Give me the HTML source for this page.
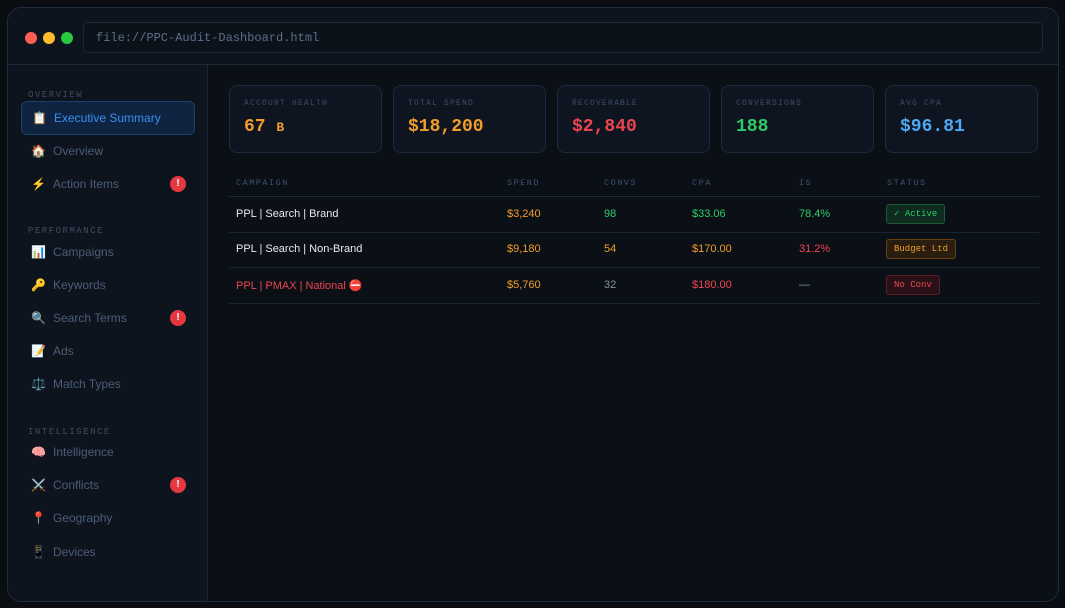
<!DOCTYPE html>
<html><head><meta charset="utf-8"><style>
*{margin:0;padding:0;box-sizing:border-box}
body{width:1065px;height:608px;background:#0a0d12;font-family:"Liberation Sans","Noto Sans CJK SC",sans-serif;position:relative;overflow:hidden}
.win{position:absolute;left:7px;top:7px;width:1052px;height:595px;border:1px solid #1f2d40;border-radius:14px;background:#0b1017;overflow:hidden}
.title{position:absolute;left:0;top:0;right:0;height:57px;background:#0e141d;border-bottom:1px solid #1c2838}
.dot{position:absolute;top:24px;width:12px;height:12px;border-radius:50%}
.url{position:absolute;left:75px;top:14px;width:960px;height:31px;border:1px solid #1c2838;border-radius:5px;background:#0c1219;font-family:"Liberation Mono",monospace;font-size:12px;color:#5b6f8a;padding:8px 12px}
.side{position:absolute;left:0;top:57px;width:200px;bottom:0;background:#0e141d;border-right:1px solid #1c2838}
.sec{position:absolute;left:20px;font-family:"Liberation Mono",monospace;font-size:9px;letter-spacing:1.5px;color:#3c4d64}
.it{position:absolute;left:13px;width:174px;height:34px;font-size:12px;color:#4a5d78;padding:10px 0 0 10px}
.it .ic{display:inline-block;width:22px;font-size:12px}
.it.act{background:#0f2440;border:1px solid #1b3f6b;border-radius:6px;color:#3b8df0;padding-top:9px}
.bdg{position:absolute;left:149px;top:9px;width:16px;height:16px;border-radius:50%;background:#e5383f;color:#fff;font-size:10px;font-weight:bold;text-align:center;line-height:16px}
.card{position:absolute;top:77px;width:153px;height:68px;border:1px solid #1c2a3c;border-radius:8px;background:#0e1520}
.card .l{position:absolute;left:14px;top:13px;font-family:"Liberation Mono",monospace;font-size:8px;letter-spacing:1.2px;color:#3c4d64}
.card .v{position:absolute;left:14px;top:31px;font-family:"Liberation Mono",monospace;font-size:18px;font-weight:bold}
.th{position:absolute;top:170px;font-family:"Liberation Mono",monospace;font-size:8.5px;letter-spacing:1.5px;color:#3c5270}
.hl{position:absolute;left:221px;width:810px;height:1px;background:#1a2433}
.td{position:absolute;font-size:11px}
.tag{position:absolute;font-family:"Liberation Mono",monospace;font-size:9px;padding:4px 7px;border-radius:3px}
</style></head><body>
<div class="win">
<div class="title">
<div class="dot" style="left:17px;background:#fe5f57"></div>
<div class="dot" style="left:35px;background:#febc2e"></div>
<div class="dot" style="left:53px;background:#28c840"></div>
<div class="url">file://PPC-Audit-Dashboard.html</div>
</div>
<div class="side">
<div class="sec" style="top:25px">OVERVIEW</div>
<div class="it act" style="top:36px"><span class="ic">📋</span>Executive Summary</div>
<div class="it" style="top:69px"><span class="ic">🏠</span>Overview</div>
<div class="it" style="top:102px"><span class="ic">⚡</span>Action Items<div class="bdg">!</div></div>
<div class="sec" style="top:161px">PERFORMANCE</div>
<div class="it" style="top:170px"><span class="ic">📊</span>Campaigns</div>
<div class="it" style="top:203px"><span class="ic">🔑</span>Keywords</div>
<div class="it" style="top:236px"><span class="ic">🔍</span>Search Terms<div class="bdg">!</div></div>
<div class="it" style="top:269px"><span class="ic">📝</span>Ads</div>
<div class="it" style="top:302px"><span class="ic">⚖️</span>Match Types</div>
<div class="sec" style="top:362px">INTELLIGENCE</div>
<div class="it" style="top:370px"><span class="ic">🧠</span>Intelligence</div>
<div class="it" style="top:403px"><span class="ic">⚔️</span>Conflicts<div class="bdg">!</div></div>
<div class="it" style="top:436px"><span class="ic">📍</span>Geography</div>
<div class="it" style="top:470px"><span class="ic">📱</span>Devices</div>
</div>
<div class="card" style="left:221px"><div class="l">ACCOUNT HEALTH</div><div class="v" style="color:#f39c2b">67 <span style="font-size:13px">B</span></div></div>
<div class="card" style="left:385px"><div class="l">TOTAL SPEND</div><div class="v" style="color:#f39c2b">$18,200</div></div>
<div class="card" style="left:549px"><div class="l">RECOVERABLE</div><div class="v" style="color:#ec4550">$2,840</div></div>
<div class="card" style="left:713px"><div class="l">CONVERSIONS</div><div class="v" style="color:#2fcc67">188</div></div>
<div class="card" style="left:877px"><div class="l">AVG CPA</div><div class="v" style="color:#4ea9f5">$96.81</div></div>
<div class="th" style="left:228px">CAMPAIGN</div>
<div class="th" style="left:499px">SPEND</div>
<div class="th" style="left:596px">CONVS</div>
<div class="th" style="left:684px">CPA</div>
<div class="th" style="left:791px">IS</div>
<div class="th" style="left:879px">STATUS</div>
<div class="hl" style="top:188px;background:#1f2b3b"></div>
<div class="td" style="left:228px;top:200px;color:#e6ebf2">PPL | Search | Brand</div>
<div class="td" style="left:499px;top:200px;color:#f39c2b">$3,240</div>
<div class="td" style="left:596px;top:200px;color:#2fcc67">98</div>
<div class="td" style="left:684px;top:200px;color:#2fcc67">$33.06</div>
<div class="td" style="left:791px;top:200px;color:#2fcc67">78.4%</div>
<div class="tag" style="left:878px;top:196px;background:#0f2a1e;border:1px solid #1d5a36;color:#2fcc67">✓ Active</div>
<div class="hl" style="top:224px"></div>
<div class="td" style="left:228px;top:235px;color:#e6ebf2">PPL | Search | Non-Brand</div>
<div class="td" style="left:499px;top:235px;color:#f39c2b">$9,180</div>
<div class="td" style="left:596px;top:235px;color:#f39c2b">54</div>
<div class="td" style="left:684px;top:235px;color:#f39c2b">$170.00</div>
<div class="td" style="left:791px;top:235px;color:#ec4550">31.2%</div>
<div class="tag" style="left:878px;top:231px;background:#2a1e10;border:1px solid #6b4416;color:#f39c2b">Budget Ltd</div>
<div class="hl" style="top:259px"></div>
<div class="td" style="left:228px;top:271px;color:#ec4550">PPL | PMAX | National ⛔</div>
<div class="td" style="left:499px;top:271px;color:#f39c2b">$5,760</div>
<div class="td" style="left:596px;top:271px;color:#8a94a3">32</div>
<div class="td" style="left:684px;top:271px;color:#ec4550">$180.00</div>
<div class="td" style="left:791px;top:271px;color:#8a94a3">—</div>
<div class="tag" style="left:878px;top:267px;background:#2a1117;border:1px solid #5e1e27;color:#ec4550">No Conv</div>
<div class="hl" style="top:295px"></div>
</div>
</body></html>
